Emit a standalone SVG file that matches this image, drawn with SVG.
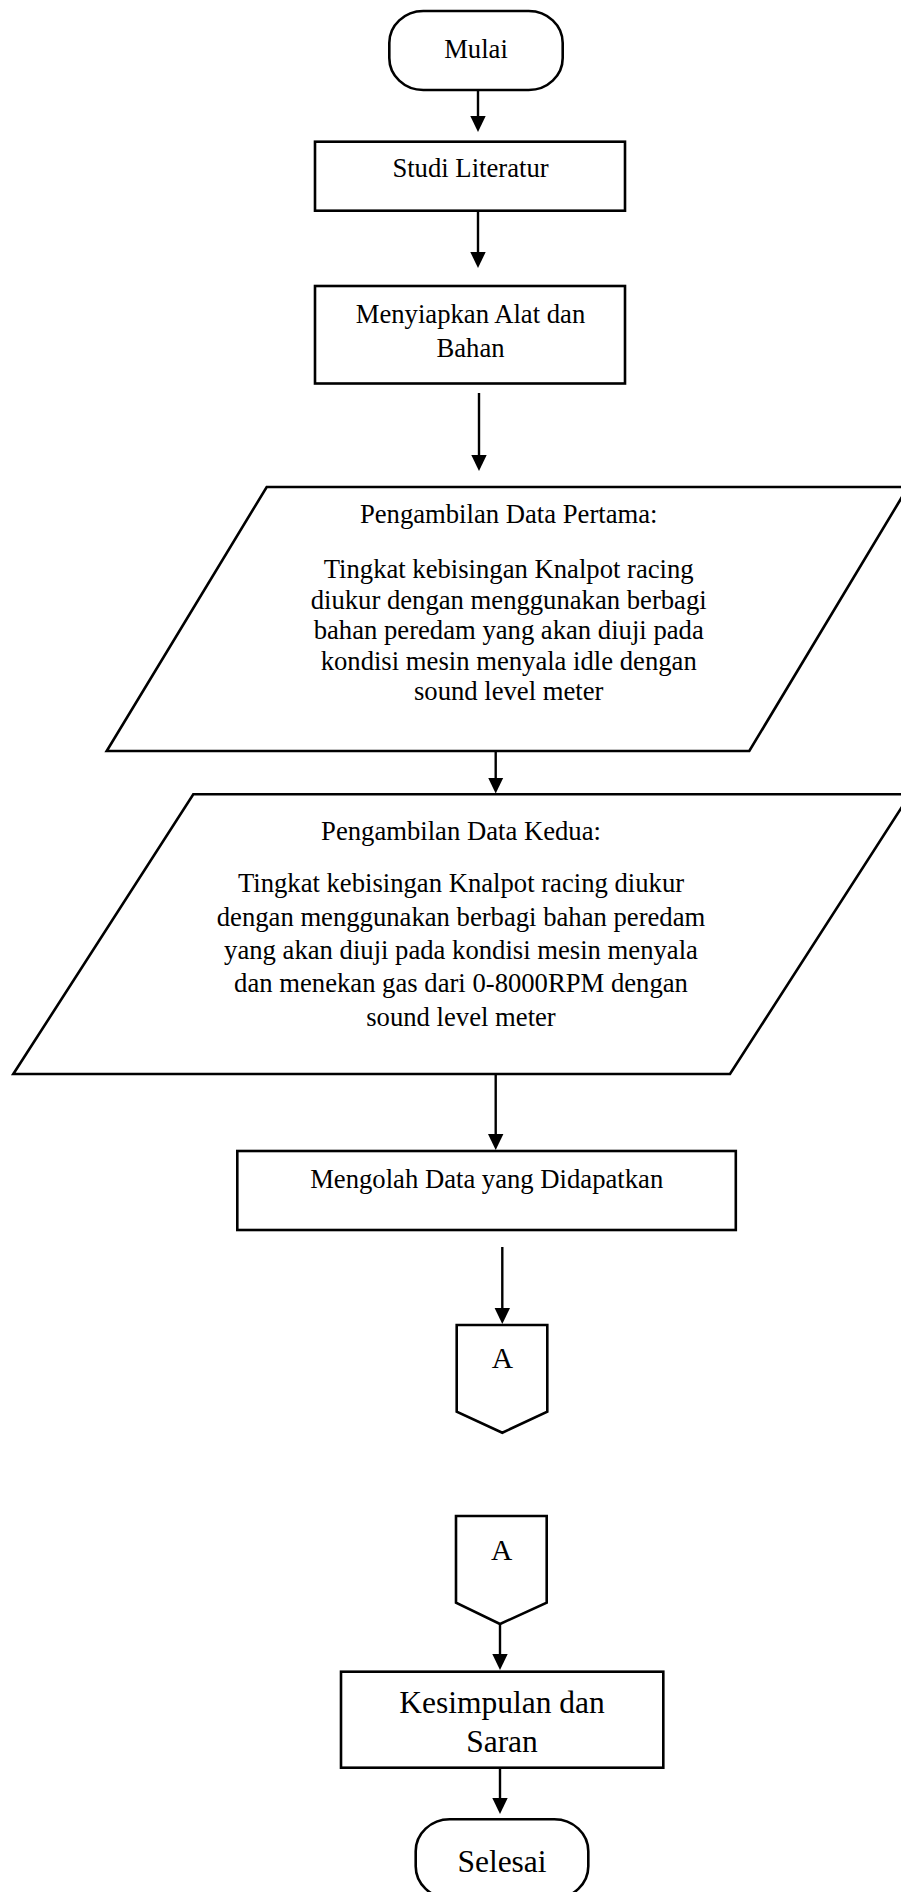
<svg xmlns="http://www.w3.org/2000/svg" width="901" height="1892" viewBox="0 0 901 1892">
<style>
.shape{fill:#fff;stroke:#000;stroke-width:2.6;}
.t{font-family:"Liberation Serif","Times New Roman",serif;font-size:26.67px;fill:#000;text-anchor:middle;}
.big{font-size:31.5px;}
.conn{stroke:#000;stroke-width:2.4;fill:none;marker-end:url(#ah);}
</style>
<defs>
<marker id="ah" markerUnits="userSpaceOnUse" viewBox="0 0 16 16" refX="8" refY="8" markerWidth="16" markerHeight="16" orient="auto">
<path d="M0,0.3 L16,8 L0,15.7 z" fill="#000"/>
</marker>
</defs>
<rect width="901" height="1892" fill="#fff"/>
<g id="connectors">
<line class="conn" x1="478" y1="90" x2="478" y2="124"/>
<line class="conn" x1="478" y1="211" x2="478" y2="260"/>
<line class="conn" x1="479" y1="393" x2="479" y2="463"/>
<line class="conn" x1="495.7" y1="751" x2="495.7" y2="785.5"/>
<line class="conn" x1="495.7" y1="1074" x2="495.7" y2="1142"/>
<line class="conn" x1="502.3" y1="1247" x2="502.3" y2="1316"/>
<line class="conn" x1="500" y1="1624" x2="500" y2="1662"/>
<line class="conn" x1="500" y1="1768" x2="500" y2="1806"/>
</g>
<g id="mulai">
<rect class="shape" x="389.3" y="11" width="173.4" height="79" rx="34" ry="32"/>
<text class="t" x="476" y="58.3">Mulai</text>
</g>
<g id="studi">
<rect class="shape" x="315" y="141.7" width="310" height="69"/>
<text class="t" x="470.5" y="176.7">Studi Literatur</text>
</g>
<g id="menyiapkan">
<rect class="shape" x="315" y="286" width="310" height="97.5"/>
<text class="t" x="470.5" y="323.3">Menyiapkan Alat dan</text>
<text class="t" x="470.5" y="356.5">Bahan</text>
</g>
<g id="data1">
<polygon class="shape" points="266.7,487 908,487 749.3,751 106.7,751"/>
<text class="t" x="508.7" y="522.5">Pengambilan Data Pertama:</text>
<text class="t" x="508.7" y="578">Tingkat kebisingan Knalpot racing</text>
<text class="t" x="508.7" y="608.5">diukur dengan menggunakan berbagi</text>
<text class="t" x="508.7" y="639">bahan peredam yang akan diuji pada</text>
<text class="t" x="508.7" y="669.5">kondisi mesin menyala idle dengan</text>
<text class="t" x="508.7" y="700">sound level meter</text>
</g>
<g id="data2">
<polygon class="shape" points="193.3,794.3 910,794.3 730,1074 13.3,1074"/>
<text class="t" x="461" y="840">Pengambilan Data Kedua:</text>
<text class="t" x="461" y="892">Tingkat kebisingan Knalpot racing diukur</text>
<text class="t" x="461" y="925.5">dengan menggunakan berbagi bahan peredam</text>
<text class="t" x="461" y="959">yang akan diuji pada kondisi mesin menyala</text>
<text class="t" x="461" y="992">dan menekan gas dari 0-8000RPM dengan</text>
<text class="t" x="461" y="1025.5">sound level meter</text>
</g>
<g id="mengolah">
<rect class="shape" x="237.3" y="1151" width="498.5" height="79"/>
<text class="t" x="486.7" y="1188">Mengolah Data yang Didapatkan</text>
</g>
<g id="connectorA1">
<polygon class="shape" points="456.7,1325 547.3,1325 547.3,1411.7 502.3,1432.7 456.7,1411.7"/>
<text class="t" x="502.3" y="1368.3" style="font-size:29.5px">A</text>
</g>
<g id="connectorA2">
<polygon class="shape" points="456,1516 546.7,1516 546.7,1602.7 500,1624 456,1602.7"/>
<text class="t" x="501.7" y="1560" style="font-size:29.5px">A</text>
</g>
<g id="kesimpulan">
<rect class="shape" x="341" y="1671.7" width="322.3" height="96"/>
<text class="t big" x="502" y="1712.7">Kesimpulan dan</text>
<text class="t big" x="502" y="1751.7">Saran</text>
</g>
<g id="selesai">
<rect class="shape" x="415.7" y="1819.3" width="172.6" height="79" rx="34" ry="32"/>
<text class="t big" x="502" y="1872.3">Selesai</text>
</g>
</svg>
